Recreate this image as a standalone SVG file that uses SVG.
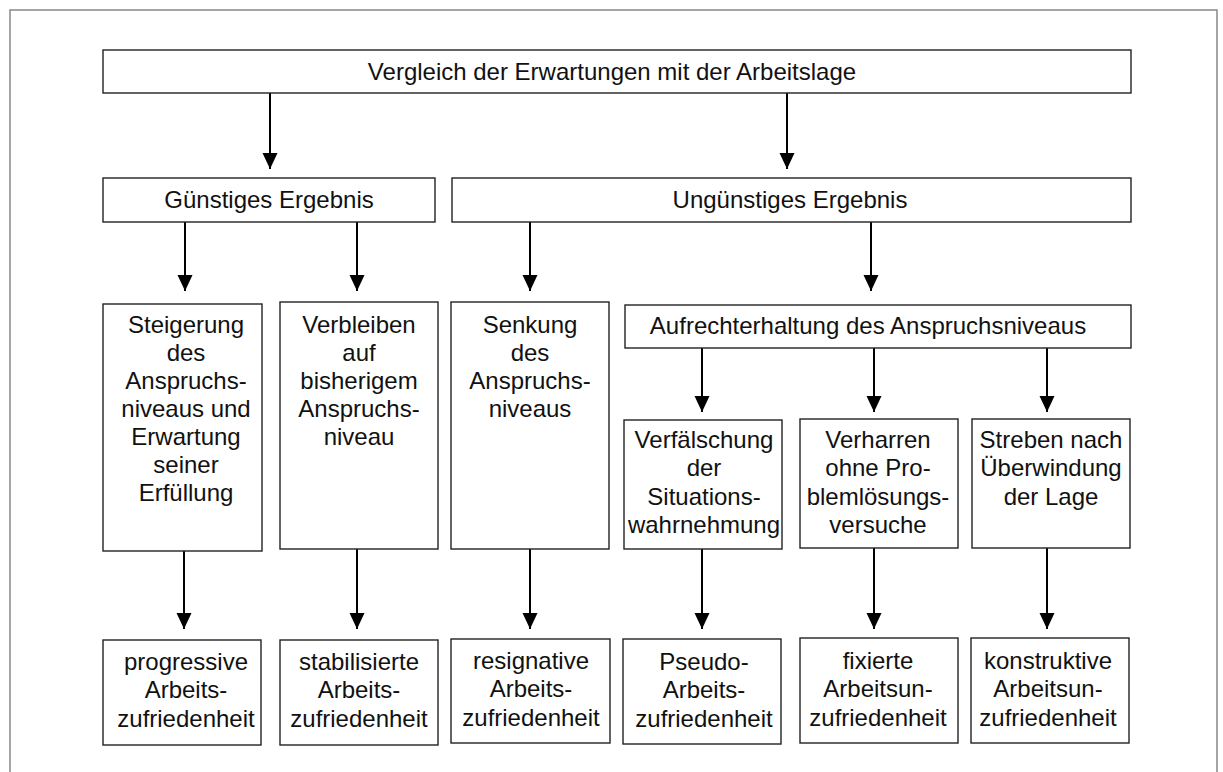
<svg xmlns="http://www.w3.org/2000/svg" width="1223" height="772" viewBox="0 0 1223 772">
<style>
  .box { fill: #fff; stroke: #222; stroke-width: 1.4; }
  .t { font-family: "Liberation Sans", Arial, Helvetica, sans-serif; font-size: 24px; fill: #111; text-anchor: middle; }
  .c { stroke: #000; stroke-width: 2; fill: none; marker-end: url(#ah); }
  .frame { fill: none; stroke: #888; stroke-width: 1.5; }
</style>
<defs>
  <marker id="ah" markerUnits="userSpaceOnUse" markerWidth="16" markerHeight="17" refX="16" refY="7.5" orient="auto">
    <path d="M0,0 L16,7.5 L0,15 Z" fill="#000"/>
  </marker>
</defs>
<rect x="0" y="0" width="1223" height="772" fill="#fff"/>
<path class="frame" d="M10,772 V10 H1217 V772"/>

<g id="connectors">
  <line class="c" x1="270" y1="93" x2="270" y2="169"/>
  <line class="c" x1="787" y1="93" x2="787" y2="169"/>
  <line class="c" x1="185" y1="222" x2="185" y2="291"/>
  <line class="c" x1="357" y1="222" x2="357" y2="291"/>
  <line class="c" x1="530" y1="222" x2="530" y2="291"/>
  <line class="c" x1="871" y1="222" x2="871" y2="291"/>
  <line class="c" x1="702" y1="348" x2="702" y2="412"/>
  <line class="c" x1="874" y1="348" x2="874" y2="412"/>
  <line class="c" x1="1047" y1="348" x2="1047" y2="412"/>
  <line class="c" x1="184" y1="551" x2="184" y2="629"/>
  <line class="c" x1="357" y1="549" x2="357" y2="629"/>
  <line class="c" x1="530" y1="549" x2="530" y2="629"/>
  <line class="c" x1="702" y1="549" x2="702" y2="629"/>
  <line class="c" x1="874" y1="548" x2="874" y2="629"/>
  <line class="c" x1="1047" y1="548" x2="1047" y2="629"/>
</g>

<g id="n-vergleich">
  <rect class="box" x="103" y="50" width="1028" height="43"/>
  <text class="t" x="612" y="80">Vergleich der Erwartungen mit der Arbeitslage</text>
</g>
<g id="n-guenstig">
  <rect class="box" x="103" y="178" width="332" height="44"/>
  <text class="t" x="269" y="208">Günstiges Ergebnis</text>
</g>
<g id="n-unguenstig">
  <rect class="box" x="452" y="178" width="679" height="44"/>
  <text class="t" x="790" y="208">Ungünstiges Ergebnis</text>
</g>
<g id="n-steigerung">
  <rect class="box" x="103" y="304" width="159" height="247"/>
  <text class="t" x="186" y="333">Steigerung</text>
  <text class="t" x="186" y="361">des</text>
  <text class="t" x="186" y="389">Anspruchs-</text>
  <text class="t" x="186" y="417">niveaus und</text>
  <text class="t" x="186" y="445">Erwartung</text>
  <text class="t" x="186" y="473">seiner</text>
  <text class="t" x="186" y="501">Erfüllung</text>
</g>
<g id="n-verbleiben">
  <rect class="box" x="280" y="302" width="158" height="247"/>
  <text class="t" x="359" y="333">Verbleiben</text>
  <text class="t" x="359" y="361">auf</text>
  <text class="t" x="359" y="389">bisherigem</text>
  <text class="t" x="359" y="417">Anspruchs-</text>
  <text class="t" x="359" y="445">niveau</text>
</g>
<g id="n-senkung">
  <rect class="box" x="451" y="302" width="158" height="247"/>
  <text class="t" x="530" y="333">Senkung</text>
  <text class="t" x="530" y="361">des</text>
  <text class="t" x="530" y="389">Anspruchs-</text>
  <text class="t" x="530" y="417">niveaus</text>
</g>
<g id="n-aufrecht">
  <rect class="box" x="625" y="305" width="506" height="43"/>
  <text class="t" x="868" y="334">Aufrechterhaltung des Anspruchsniveaus</text>
</g>
<g id="n-verfaelschung">
  <rect class="box" x="624" y="420" width="158" height="129"/>
  <text class="t" x="704" y="448">Verfälschung</text>
  <text class="t" x="704" y="476">der</text>
  <text class="t" x="704" y="505">Situations-</text>
  <text class="t" x="704" y="533">wahrnehmung</text>
</g>
<g id="n-verharren">
  <rect class="box" x="800" y="419" width="158" height="129"/>
  <text class="t" x="878" y="448">Verharren</text>
  <text class="t" x="878" y="476">ohne Pro-</text>
  <text class="t" x="878" y="505">blemlösungs-</text>
  <text class="t" x="878" y="533">versuche</text>
</g>
<g id="n-streben">
  <rect class="box" x="972" y="419" width="158" height="129"/>
  <text class="t" x="1051" y="448">Streben nach</text>
  <text class="t" x="1051" y="476">Überwindung</text>
  <text class="t" x="1051" y="505">der Lage</text>
</g>
<g id="n-progressiv">
  <rect class="box" x="103" y="640" width="158" height="105"/>
  <text class="t" x="186" y="670">progressive</text>
  <text class="t" x="186" y="698">Arbeits-</text>
  <text class="t" x="186" y="727">zufriedenheit</text>
</g>
<g id="n-stabil">
  <rect class="box" x="280" y="640" width="158" height="105"/>
  <text class="t" x="359" y="670">stabilisierte</text>
  <text class="t" x="359" y="698">Arbeits-</text>
  <text class="t" x="359" y="727">zufriedenheit</text>
</g>
<g id="n-resignativ">
  <rect class="box" x="451" y="639" width="159" height="104"/>
  <text class="t" x="531" y="669">resignative</text>
  <text class="t" x="531" y="697">Arbeits-</text>
  <text class="t" x="531" y="726">zufriedenheit</text>
</g>
<g id="n-pseudo">
  <rect class="box" x="623" y="639" width="158" height="105"/>
  <text class="t" x="704" y="670">Pseudo-</text>
  <text class="t" x="704" y="698">Arbeits-</text>
  <text class="t" x="704" y="727">zufriedenheit</text>
</g>
<g id="n-fixiert">
  <rect class="box" x="800" y="638" width="158" height="105"/>
  <text class="t" x="878" y="669">fixierte</text>
  <text class="t" x="878" y="697">Arbeitsun-</text>
  <text class="t" x="878" y="726">zufriedenheit</text>
</g>
<g id="n-konstruktiv">
  <rect class="box" x="971" y="638" width="158" height="105"/>
  <text class="t" x="1048" y="669">konstruktive</text>
  <text class="t" x="1048" y="697">Arbeitsun-</text>
  <text class="t" x="1048" y="726">zufriedenheit</text>
</g>
</svg>
